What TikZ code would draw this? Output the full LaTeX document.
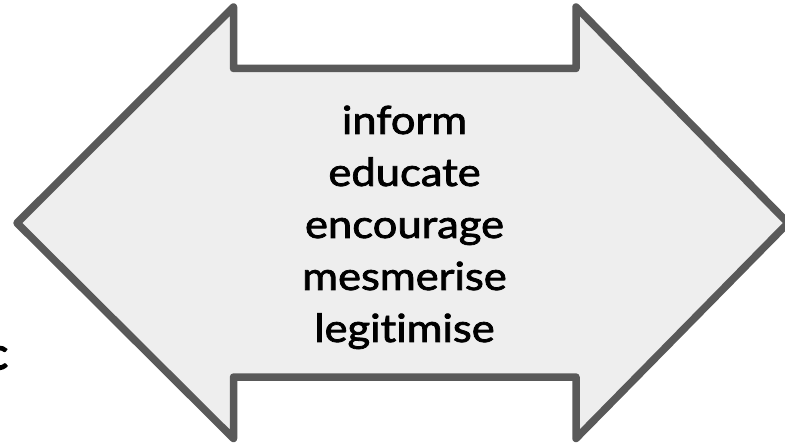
\documentclass[tikz,border=0pt]{standalone}
\usepackage{fontspec}
\newfontfamily\wordfont{Lato}[FakeBold=2,FakeStretch=1.12,Ligatures=NoCommon]
\newfontfamily\edgefont{Lato}[FakeBold=4]
\definecolor{arrowline}{HTML}{595959}
\definecolor{arrowfill}{HTML}{EEEEEE}
\begin{document}
\begin{tikzpicture}[x=1bp,y=-1bp,
  word/.style={anchor=base,inner sep=0pt,text=black,
    font=\wordfont\fontsize{39}{52}\selectfont},
  bigarrow/.style={draw=arrowline,fill=arrowfill,line width=7.5bp,line join=round}]
  \useasboundingbox (0,0) rectangle (785,446);
  % double-headed block arrow
  \draw[bigarrow] (233.5,7) -- (17,223) -- (233.5,438.5) -- (233.5,377)
    -- (576,377) -- (576,438.5) -- (788,223) -- (576,7) -- (576,68.5)
    -- (233.5,68.5) -- cycle;
  % words inside the arrow
  \node[word] (w1) at (404.5,134) {inform};
  \node[word] (w2) at (404.5,186) {educate};
  \node[word] (w3) at (404.5,238) {encourage};
  \node[word] (w4) at (404.5,290) {mesmerise};
  \node[word] (w5) at (404.5,342) {legitimise};
  % letter running off the left edge
  \node[anchor=base east,inner sep=0pt,text=black,
    font=\edgefont\fontsize{44}{50}\selectfont] (edge) at (8,369) {c};
\end{tikzpicture}
\end{document}
